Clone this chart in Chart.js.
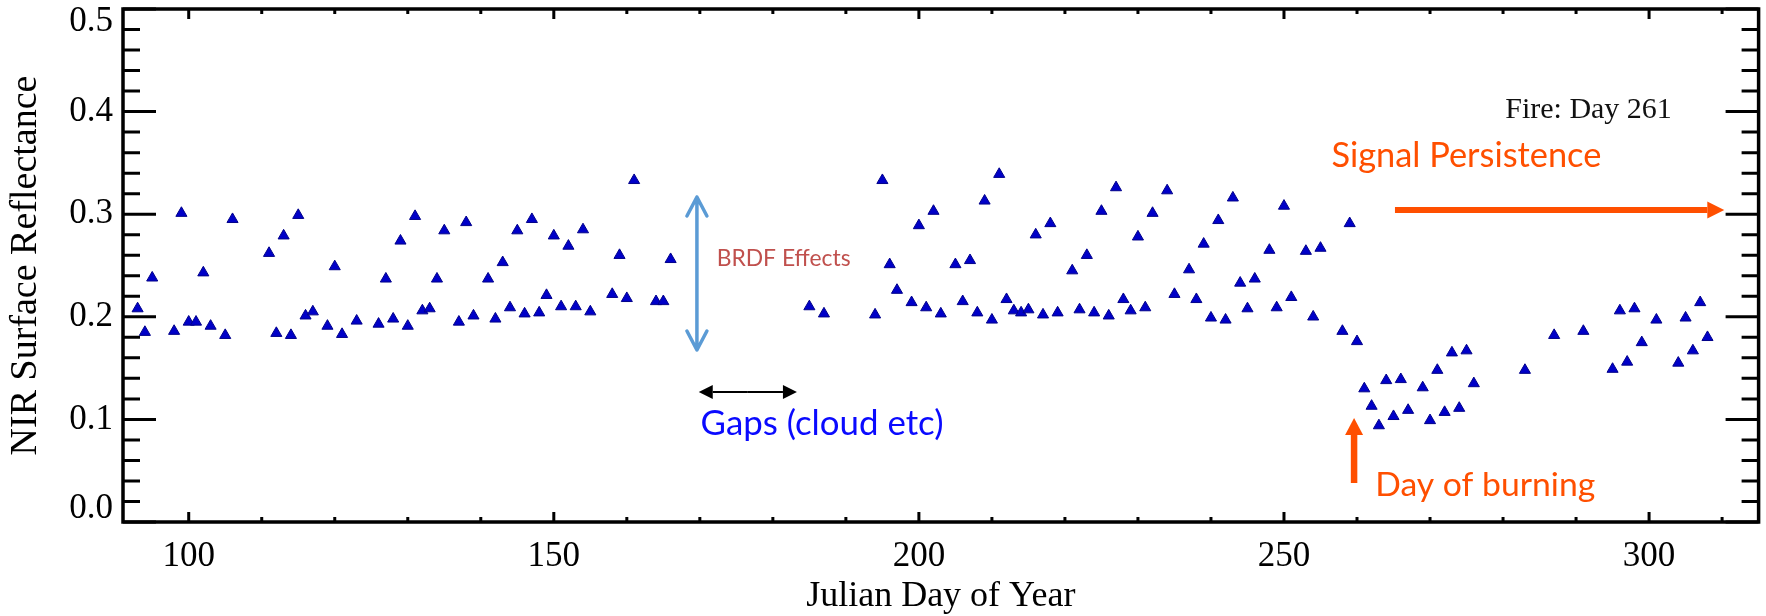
<!DOCTYPE html>
<html>
<head>
<meta charset="utf-8">
<script src="https://cdn.jsdelivr.net/npm/chart.js@4.4.1/dist/chart.umd.min.js"></script>
<style>
  html, body { margin: 0; padding: 0; background: #fff; }
  #wrap { width: 1766px; height: 616px; }
</style>
</head>
<body>
<div id="wrap"><canvas id="nirChart" width="1766" height="616"></canvas></div>
<script>
// Julian day of each clear observation
const days = [
  93, 94, 95, 98, 99, 100, 101, 102, 103, 105, 106,
  111, 112, 113, 114, 115, 116, 117, 119, 120, 121, 123,
  126, 127, 128, 129, 130, 131, 132, 133, 134, 135, 137, 138, 139,
  141, 142, 143, 144, 145, 146, 147, 148, 149, 150, 151, 152, 153, 154, 155,
  158, 159, 160, 161, 164, 165, 166,
  185, 187, 194, 195, 196, 197, 199, 200, 201, 202, 203, 205, 206, 207, 208, 209, 210,
  211, 212, 213, 214, 215, 216, 217, 218, 219, 221, 222, 223, 224, 225, 226, 227, 228, 229, 230,
  231, 232, 234, 235, 237, 238, 239, 240, 241, 242, 243, 244, 245, 246, 248, 249, 250, 251, 253, 254, 255,
  258, 259, 260, 261, 262, 263, 264, 265, 266, 267, 269, 270, 271, 272, 273, 274, 275, 276,
  283, 287, 291, 295, 296, 297, 298, 299, 301, 304, 305, 306, 307, 308
];

// NIR surface reflectance for the same days
const nir = [
  0.208, 0.185, 0.238, 0.186, 0.301, 0.195, 0.195, 0.243, 0.191, 0.182, 0.295,
  0.262, 0.184, 0.279, 0.182, 0.299, 0.201, 0.205, 0.191, 0.249, 0.183, 0.196,
  0.193, 0.237, 0.198, 0.274, 0.191, 0.298, 0.206, 0.208, 0.237, 0.284, 0.195, 0.292, 0.201,
  0.237, 0.198, 0.253, 0.209, 0.284, 0.203, 0.295, 0.204, 0.221, 0.279, 0.210, 0.269, 0.210, 0.285, 0.205,
  0.222, 0.260, 0.218, 0.333, 0.215, 0.215, 0.256,
  0.210, 0.203, 0.202, 0.333, 0.251, 0.226, 0.214, 0.289, 0.209, 0.303, 0.203, 0.251, 0.215, 0.255, 0.204, 0.313, 0.197,
  0.339, 0.217, 0.206, 0.204, 0.207, 0.280, 0.202, 0.291, 0.204, 0.245, 0.207, 0.260, 0.204, 0.303, 0.201, 0.326, 0.217, 0.206, 0.278,
  0.209, 0.301, 0.323, 0.222, 0.246, 0.217, 0.271, 0.199, 0.294, 0.197, 0.316, 0.233, 0.208, 0.237, 0.265, 0.209, 0.308, 0.219, 0.264, 0.200, 0.267,
  0.186, 0.291, 0.176, 0.130, 0.113, 0.094, 0.138, 0.103, 0.139, 0.109, 0.131, 0.099, 0.148, 0.107, 0.165, 0.111, 0.167, 0.135,
  0.148, 0.182, 0.186, 0.149, 0.206, 0.156, 0.208, 0.175, 0.197, 0.155, 0.199, 0.167, 0.214, 0.180
];

const xTickLabels = [100, 150, 200, 250, 300];
const yTickLabels = ['0.0', '0.1', '0.2', '0.3', '0.4', '0.5'];

const SERIF = "'Liberation Serif', 'Times New Roman', serif";
const SANS = "Lato, 'Open Sans', sans-serif";

// size a font so the text spans a given width
function fitSize(ctx, text, family, width) {
    ctx.font = `100px ${family}`;
    return 100 * width / ctx.measureText(text).width;
}

function filledArrow(ctx, x1, y1, x2, y2, lineWidth, headLen, headHalf, color) {
    const ang = Math.atan2(y2 - y1, x2 - x1);
    const bx = x2 - Math.cos(ang) * headLen;
    const by = y2 - Math.sin(ang) * headLen;
    ctx.strokeStyle = color;
    ctx.fillStyle = color;
    ctx.lineWidth = lineWidth;
    ctx.lineCap = 'butt';
    ctx.beginPath();
    ctx.moveTo(x1, y1);
    ctx.lineTo(bx, by);
    ctx.stroke();
    ctx.beginPath();
    ctx.moveTo(x2, y2);
    ctx.lineTo(bx + Math.sin(ang) * headHalf, by - Math.cos(ang) * headHalf);
    ctx.lineTo(bx - Math.sin(ang) * headHalf, by + Math.cos(ang) * headHalf);
    ctx.closePath();
    ctx.fill();
}

// IDL style box: frame, inward major/minor ticks, y labels
const framePlugin = {
    id: 'frame',
    afterDatasetsDraw(chart) {
        const {ctx, chartArea: a, scales: {x, y}} = chart;
        ctx.save();
        ctx.strokeStyle = '#000';
        ctx.lineWidth = 3.5;
        ctx.strokeRect(a.left, a.top, a.right - a.left, a.bottom - a.top);

        ctx.lineWidth = 3;
        ctx.beginPath();
        for (let d = 100; d <= 310; d += 10) {
            const px = x.getPixelForValue(d);
            const len = d % 50 === 0 ? 10 : 5;
            ctx.moveTo(px, a.bottom); ctx.lineTo(px, a.bottom - len);
            ctx.moveTo(px, a.top); ctx.lineTo(px, a.top + len);
        }
        for (let i = 0; i <= 25; i++) {
            const py = y.getPixelForValue(i * 0.02);
            const len = i % 5 === 0 ? 33 : 17;
            ctx.moveTo(a.left, py); ctx.lineTo(a.left + len, py);
            ctx.moveTo(a.right, py); ctx.lineTo(a.right - len, py);
        }
        ctx.stroke();

        ctx.fillStyle = '#000';
        ctx.font = `35px ${SERIF}`;
        ctx.textAlign = 'right';
        ctx.textBaseline = 'middle';
        yTickLabels.forEach(label => {
            const v = parseFloat(label);
            let py = y.getPixelForValue(v);
            if (v === 0) py -= 13;
            if (v === 0.5) py += 13;
            ctx.fillText(label, a.left - 10, py);
        });
        ctx.restore();
    }
};

const notesPlugin = {
    id: 'notes',
    afterDatasetsDraw(chart) {
        const {ctx, scales: {x, y}} = chart;
        const px = d => x.getPixelForValue(d);
        const py = v => y.getPixelForValue(v);
        ctx.save();

        // BRDF double arrow with open heads
        const bx = px(169.6), bTop = py(0.3168), bBot = py(0.1676);
        ctx.strokeStyle = '#5b9bd5';
        ctx.lineWidth = 3.5;
        ctx.lineCap = 'round';
        ctx.lineJoin = 'round';
        ctx.beginPath();
        ctx.moveTo(bx, bTop); ctx.lineTo(bx, bBot);
        ctx.moveTo(bx - 10, bTop + 19); ctx.lineTo(bx, bTop); ctx.lineTo(bx + 10, bTop + 19);
        ctx.moveTo(bx - 10, bBot - 19); ctx.lineTo(bx, bBot); ctx.lineTo(bx + 10, bBot - 19);
        ctx.stroke();

        // gaps double arrow
        const gy = py(0.1267), gx1 = px(169.85), gx2 = px(183.3);
        filledArrow(ctx, (gx1 + gx2) / 2, gy, gx2, gy, 2, 14, 7, '#000');
        filledArrow(ctx, (gx1 + gx2) / 2, gy, gx1, gy, 2, 14, 7, '#000');

        // signal persistence and day of burning arrows
        filledArrow(ctx, px(265.2), py(0.304), px(310.3), py(0.304), 6, 17, 8.5, '#ff4f00');
        filledArrow(ctx, px(259.6), py(0.038), px(259.6), py(0.1014), 6.5, 17, 9, '#ff4f00');

        const notes = [
            {text: 'BRDF Effects', day: 172.3, value: 0.2495, width: 134, color: '#c0504d'},
            {text: 'Gaps (cloud etc)', day: 170.1, value: 0.0848, width: 243, color: '#0a0aff'},
            {text: 'Signal Persistence', day: 256.5, value: 0.346, width: 270, color: '#ff4f00'},
            {text: 'Day of burning', day: 262.5, value: 0.0253, width: 220, color: '#ff4f00'}
        ];
        ctx.textAlign = 'left';
        ctx.textBaseline = 'alphabetic';
        notes.forEach(n => {
            const size = fitSize(ctx, n.text, SANS, n.width);
            ctx.font = `${size}px ${SANS}`;
            ctx.fillStyle = n.color;
            ctx.fillText(n.text, px(n.day), py(n.value));
        });

        ctx.font = `30px ${SERIF}`;
        ctx.fillStyle = '#111';
        ctx.fillText('Fire: Day 261', px(280.3), py(0.394));
        ctx.restore();
    }
};

const ctx = document.getElementById('nirChart').getContext('2d');
const nirChart = new Chart(ctx, {
    type: 'scatter',
    data: {
        datasets: [
            {
                label: 'NIR Surface Reflectance',
                data: days.map((d, i) => ({x: d, y: nir[i]})),
                pointStyle: 'triangle',
                pointRadius: 6.4,
                pointBorderWidth: 1,
                backgroundColor: '#0000c8',
                borderColor: '#00008a'
            }
        ]
    },
    options: {
        responsive: false,
        animation: false,
        events: [],
        layout: {
            padding: {top: 9, right: 5, left: 0, bottom: 0}
        },
        scales: {
            x: {
                type: 'linear',
                min: 91,
                max: 315,
                afterBuildTicks: scale => {
                    scale.ticks = xTickLabels.map(v => ({value: v}));
                },
                afterFit: scale => { scale.height = 94; },
                grid: {display: false, drawTicks: false},
                border: {display: false},
                ticks: {
                    color: '#000',
                    padding: 14,
                    maxRotation: 0,
                    autoSkip: false,
                    font: {family: SERIF, size: 35}
                },
                title: {
                    display: true,
                    text: 'Julian Day of Year',
                    color: '#000',
                    padding: 0,
                    font: {family: SERIF, size: 36, lineHeight: 1.1}
                }
            },
            y: {
                min: 0,
                max: 0.5,
                afterFit: scale => { scale.width = 123; },
                grid: {display: false, drawTicks: false},
                border: {display: false},
                ticks: {display: false},
                title: {
                    display: true,
                    text: 'NIR Surface Reflectance',
                    color: '#000',
                    padding: {top: 5, bottom: 0},
                    font: {family: SERIF, size: 38, lineHeight: 1.1}
                }
            }
        },
        plugins: {
            legend: {display: false},
            tooltip: {enabled: false}
        }
    },
    plugins: [framePlugin, notesPlugin]
});
</script>
</body>
</html>
